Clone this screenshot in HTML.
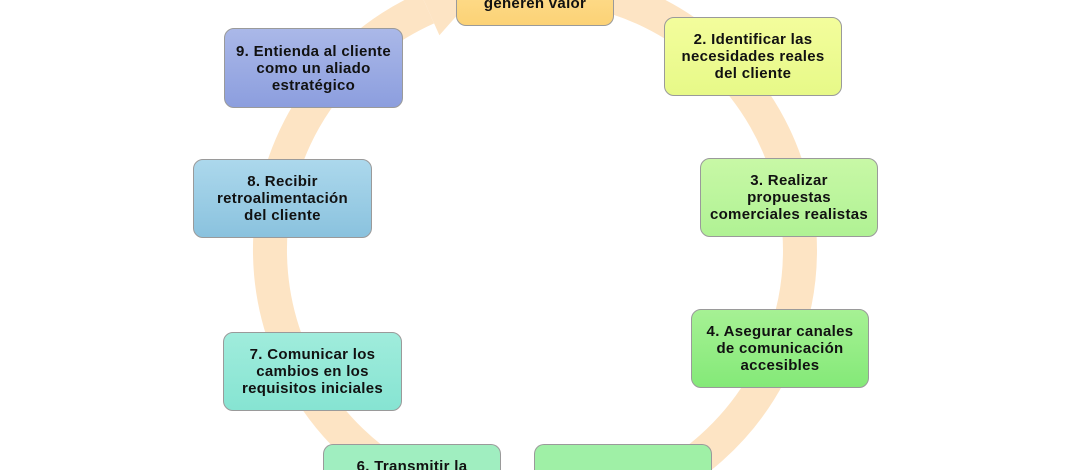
<!DOCTYPE html>
<html><head><meta charset="utf-8"><style>
html,body{margin:0;width:1070px;height:470px;overflow:hidden}
body{background:#fff;position:relative;font-family:"Liberation Sans",sans-serif}
svg{position:absolute;left:0;top:0}
.b{position:absolute;width:176px;height:77px;border:1px solid #9a9a9a;border-radius:10px;box-sizing:border-box;display:flex;align-items:center;justify-content:center;text-align:center;font-weight:bold;font-size:15px;line-height:17px;color:#111;white-space:nowrap;letter-spacing:0.3px;overflow:hidden}
</style></head><body>
<svg width="1070" height="470">
<path d="M 535 -15 A 265 265 0 1 1 427.2 7.9" fill="none" stroke="#fde4c4" stroke-width="34"/>
<polygon points="439.4,35.3 413,-24 479.7,-10.2" fill="#fde4c4"/>
</svg>
<div class="b" style="left:456px;top:0;width:158px;height:26px;border-top:none;border-radius:0 0 10px 10px;background:linear-gradient(#fdd985,#fcd276);align-items:flex-end;padding-bottom:13px;line-height:17px">generen valor</div>
<div class="b" style="left:664px;top:17px;width:178px;height:79px;background:linear-gradient(#f3fd9c,#e7f988)">2. Identificar las<br>necesidades reales<br>del cliente</div>
<div class="b" style="left:700px;top:158px;width:178px;height:79px;background:linear-gradient(#c8f8a6,#b0f294)">3. Realizar<br>propuestas<br>comerciales realistas</div>
<div class="b" style="left:691px;top:309px;width:178px;height:79px;background:linear-gradient(#a6f194,#84e978)">4. Asegurar canales<br>de comunicación<br>accesibles</div>
<div class="b" style="left:534px;top:444px;width:178px;height:26px;border-bottom:none;border-radius:10px 10px 0 0;background:#9ff0a6;align-items:flex-start;padding-top:23px">5. Asegurar la calidad</div>
<div class="b" style="left:323px;top:444px;width:178px;height:26px;border-bottom:none;border-radius:10px 10px 0 0;background:#a0eec0;align-items:flex-start;padding-top:13px">6. Transmitir la</div>
<div class="b" style="left:223px;top:332px;width:179px;height:79px;background:linear-gradient(#a0ecdc,#86e4d2)">7. Comunicar los<br>cambios en los<br>requisitos iniciales</div>
<div class="b" style="left:193px;top:159px;width:179px;height:79px;background:linear-gradient(#acd8ec,#8ac2de)">8. Recibir<br>retroalimentación<br>del cliente</div>
<div class="b" style="left:224px;top:28px;width:179px;height:80px;background:linear-gradient(#aab8e8,#8c9ede)">9. Entienda al cliente<br>como un aliado<br>estratégico</div>
</body></html>
